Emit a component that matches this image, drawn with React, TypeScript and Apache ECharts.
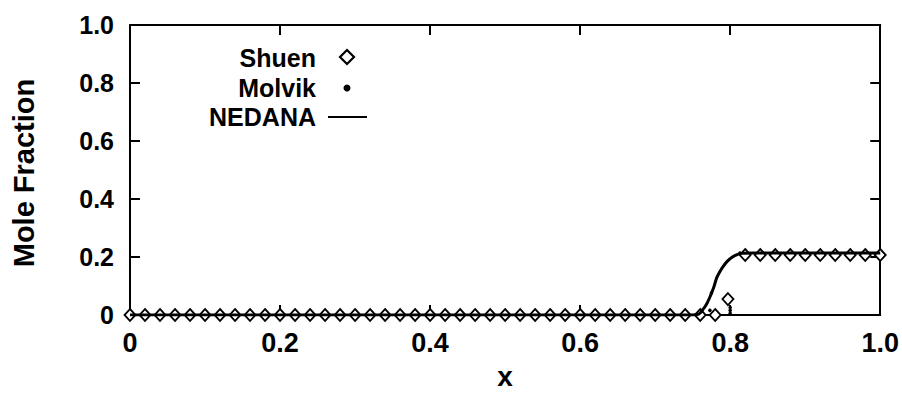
import React, { useEffect, useRef } from "react";
import * as echarts from "echarts";

const xTicks = [0, 0.2, 0.4, 0.6, 0.8, 1.0];
const yTicks = [0, 0.2, 0.4, 0.6, 0.8, 1.0];

const shuenX = [
  0, 0.02, 0.04, 0.06, 0.08, 0.1, 0.12, 0.14, 0.16, 0.18,
  0.2, 0.22, 0.24, 0.26, 0.28, 0.3, 0.32, 0.34, 0.36, 0.38,
  0.4, 0.42, 0.44, 0.46, 0.48, 0.5, 0.52, 0.54, 0.56, 0.58,
  0.6, 0.62, 0.64, 0.66, 0.68, 0.7, 0.72, 0.74, 0.76, 0.78,
  0.797, 0.82, 0.84, 0.86, 0.88, 0.9, 0.92, 0.94, 0.96, 0.98, 1.0,
];
const shuenY = [
  0, 0, 0, 0, 0, 0, 0, 0, 0, 0,
  0, 0, 0, 0, 0, 0, 0, 0, 0, 0,
  0, 0, 0, 0, 0, 0, 0, 0, 0, 0,
  0, 0, 0, 0, 0, 0, 0, 0, 0, 0,
  0.055, 0.207, 0.207, 0.207, 0.207, 0.207, 0.207, 0.207, 0.207, 0.207, 0.207,
];

const molvikX = [0.773, 0.775, 0.8, 0.8, 0.8, 0.813];
const molvikY = [0.016, 0.076, 0.006, 0.016, 0.026, 0.214];

const nedanaX = [0, 0.745, 0.758, 0.764, 0.769, 0.773, 0.778, 0.782, 0.786, 0.79, 0.796, 0.803, 0.81, 0.816, 0.83, 1.0];
const nedanaY = [0, 0, 0.003, 0.02, 0.04, 0.062, 0.095, 0.128, 0.148, 0.165, 0.185, 0.2, 0.209, 0.213, 0.214, 0.214];

const FONT = "'Liberation Sans', Arial, Helvetica, sans-serif";

const fmt = (v: number) => (v === 0 ? "0" : v.toFixed(1));

export default function App() {
  const ref = useRef<HTMLDivElement>(null);
  useEffect(() => {
    if (!ref.current) return;
    const chart = echarts.init(ref.current, undefined, { renderer: "svg" });
    const lineStyle = { color: "#000", width: 2 };
    const tick = { show: true, inside: true, length: 10, lineStyle: { color: "#000", width: 2 } };
    const axisBase = {
      type: "value" as const,
      min: 0,
      max: 1,
      interval: 0.2,
      splitLine: { show: false },
      axisLine: { show: true, onZero: false, lineStyle },
      axisTick: tick,
    };
    chart.setOption({
      animation: false,
      backgroundColor: "#fff",
      grid: { left: 130, right: 21, top: 25, bottom: 78, containLabel: false },
      xAxis: [
        {
          ...axisBase,
          position: "bottom",
          axisLabel: {
            formatter: fmt,
            color: "#000",
            fontFamily: FONT,
            fontWeight: "bold",
            fontSize: 27,
            margin: 14,
          },
        },
        {
          ...axisBase,
          position: "top",
          axisTick: { ...tick },
          axisLabel: { show: false },
        },
      ],
      yAxis: [
        {
          ...axisBase,
          position: "left",
          axisLabel: {
            formatter: fmt,
            color: "#000",
            fontFamily: FONT,
            fontWeight: "bold",
            fontSize: 25,
            margin: 16,
          },
        },
        {
          ...axisBase,
          position: "right",
          axisTick: { ...tick },
          axisLabel: { show: false },
        },
      ],
      series: [
        {
          name: "Shuen",
          type: "scatter",
          symbol: "diamond",
          symbolSize: [11, 12],
          itemStyle: { color: "#fff", borderColor: "#000", borderWidth: 1.8, opacity: 1 },
          data: shuenX.map((x, i) => [x, shuenY[i]]),
          z: 2,
        },
        {
          name: "Molvik",
          type: "scatter",
          symbol: "circle",
          symbolSize: 3.5,
          itemStyle: { color: "#000", opacity: 1 },
          data: molvikX.map((x, i) => [x, molvikY[i]]),
          z: 3,
        },
        {
          name: "NEDANA",
          type: "line",
          showSymbol: false,
          symbol: "none",
          smooth: 0.3,
          lineStyle: { color: "#000", width: 3 },
          data: nedanaX.map((x, i) => [x, nedanaY[i]]),
          z: 4,
        },
      ],
      graphic: [
        {
          type: "text",
          x: 505,
          y: 376,
          style: { text: "x", font: `bold 28px ${FONT}`, fill: "#000", align: "center", verticalAlign: "middle" },
        },
        {
          type: "text",
          x: 9,
          y: 173,
          rotation: Math.PI / 2,
          style: {
            text: "Mole Fraction",
            font: `bold 29px ${FONT}`,
            fill: "#000",
            align: "center",
            verticalAlign: "top",
          },
        },
        {
          type: "text",
          x: 316,
          y: 58,
          style: { text: "Shuen", font: `bold 25px ${FONT}`, fill: "#000", align: "right", verticalAlign: "middle" },
        },
        {
          type: "text",
          x: 316,
          y: 88,
          style: { text: "Molvik", font: `bold 25px ${FONT}`, fill: "#000", align: "right", verticalAlign: "middle" },
        },
        {
          type: "text",
          x: 316,
          y: 117,
          style: { text: "NEDANA", font: `bold 25px ${FONT}`, fill: "#000", align: "right", verticalAlign: "middle" },
        },
        {
          type: "polygon",
          shape: { points: [[347, 50], [354, 57], [347, 64], [340, 57]] },
          style: { fill: "#fff", stroke: "#000", lineWidth: 2.2 },
        },
        {
          type: "circle",
          shape: { cx: 347, cy: 88, r: 3.5 },
          style: { fill: "#000" },
        },
        {
          type: "line",
          shape: { x1: 328, y1: 117, x2: 367, y2: 117 },
          style: { stroke: "#000", lineWidth: 2 },
        },
      ],
    });
    return () => chart.dispose();
  }, []);
  return (
    <div
      ref={ref}
      style={{ position: "absolute", left: 0, top: 0, width: 902, height: 393, background: "#fff" }}
    />
  );
}
